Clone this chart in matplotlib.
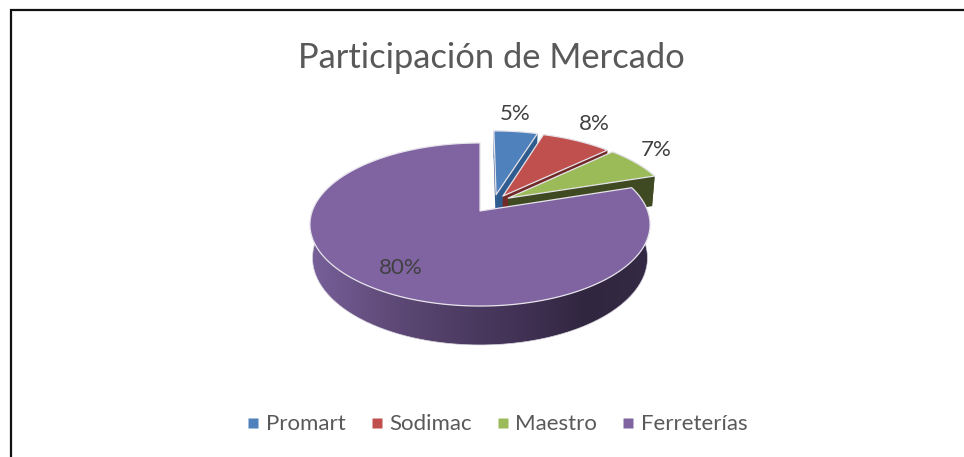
import numpy as np
import matplotlib
matplotlib.use("Agg")
import matplotlib.pyplot as plt
from matplotlib.colors import LinearSegmentedColormap
from matplotlib.lines import Line2D
from matplotlib.patches import Polygon

plt.rcParams["font.family"] = ["Lato", "DejaVu Sans"]

# Data
categories = ["Promart", "Sodimac", "Maestro", "Ferreterías"]
shares = [5, 8, 7, 80]
top_colors = ["#4f81bd", "#c0504d", "#9bbb59", "#8064a2"]
side_colors = ["#2f5c8f", "#722a28", "#3f4a22", "#3a2d4d"]

# Pie geometry in pixels
cx, cy = 480, 211        # apex of the big slice
rx, ry, k = 167.7, 79.3, 0.1656
depth = 32.5
shrink = 0.985
explode = [0.235, 0.24, 0.24, 0.0]
explode_dir = [25, 36, 46, 0]
label_xy = [(515.5, 114.5), (594.5, 124.5), (656.5, 149.5), (401, 267.5)]
text_grey = "#595959"


def project(u, v):
    # perspective view of the unit disc
    d = 1 + k * v
    return cx + rx * u / d, cy - ry * v / d


def lower(x, y, v):
    # bottom face of the pie, depth shrinks towards the back
    return cx + (x - cx) * shrink, y + depth / (1 + k * v)


fig = plt.figure(figsize=(9.64, 4.57), dpi=100)
ax = fig.add_axes([0, 0, 1, 1])
ax.set_xlim(0, 964)
ax.set_ylim(457, 0)
ax.axis("off")

# frame, only top and left
ax.plot([964, 11, 11], [10, 10, 457], color="#111111", lw=1.6, solid_joinstyle="miter")

ax.text(491.5, 58.5, "Participación de Mercado", ha="center", va="center",
        fontsize=24.8, color=text_grey)

start = 0.0
for i in range(len(shares)):
    end = start + shares[i] * 3.6
    a = np.radians(explode_dir[i])
    du, dv = explode[i] * np.sin(a), explode[i] * np.cos(a)
    th = np.radians(np.linspace(start, end, 200))
    vs = np.cos(th) + dv
    ox, oy = project(np.sin(th) + du, vs)
    ax0, ay0 = project(du, dv)
    bx, by = lower(ox, oy, vs)
    bx0, by0 = lower(ax0, ay0, dv)
    z = 2 + i * 2

    if i < 3:
        # radial faces, then the outer wall
        ax.add_patch(Polygon([(ax0, ay0), (ox[-1], oy[-1]), (bx[-1], by[-1]), (bx0, by0)],
                             fc=side_colors[i], ec="none", zorder=z))
        ax.add_patch(Polygon([(ax0, ay0), (ox[0], oy[0]), (bx[0], by[0]), (bx0, by0)],
                             fc=side_colors[i], ec="none", zorder=z))
        wall = np.vstack([np.c_[ox, oy], np.c_[bx, by][::-1]])
        ax.add_patch(Polygon(wall, fc=side_colors[i], ec="none", zorder=z))
    else:
        # the big slice has a shaded wall, lighter to the left
        wall = np.vstack([np.c_[ox, oy], np.c_[bx, by][::-1]])
        clip = Polygon(wall, fc="none", ec="none", transform=ax.transData)
        ax.add_patch(clip)
        cmap = LinearSegmentedColormap.from_list(
            "wall", [(0, "#78609a"), (0.235, "#5f4a78"), (0.41, "#503e66"),
                     (0.65, "#3f3052"), (0.82, "#30263f"), (1, "#352a45")])
        im = ax.imshow(np.linspace(0, 1, 256)[None, :], cmap=cmap, aspect="auto",
                       extent=(310, 650, 345, 200), zorder=z)
        im.set_clip_path(clip)
        ax.set_xlim(0, 964)
        ax.set_ylim(457, 0)
        ax.plot(bx, by, color="#d9d5de", lw=0.5, zorder=z)

    top = np.vstack([[ax0, ay0], np.c_[ox, oy]])
    ax.add_patch(Polygon(top, closed=True, fc=top_colors[i], ec="#e6e3ea", lw=0.9,
                         joinstyle="round", zorder=z + 1))
    start = end

for i in range(len(shares)):
    ax.text(label_xy[i][0], label_xy[i][1], f"{shares[i]}%", ha="center", va="center",
            fontsize=16, color="#404040", zorder=20)

handles = [Line2D([], [], marker="s", ls="none", ms=6.5, mfc=c, mec="none") for c in top_colors]
ax.legend(handles, categories, ncol=4, frameon=False, loc="center",
          bbox_to_anchor=(497 / 964, 1 - 424.5 / 457), fontsize=16, labelcolor=text_grey,
          handlelength=0.6, handletextpad=0.27, columnspacing=1.09, borderpad=0)

fig.savefig("out.png", dpi=100)
